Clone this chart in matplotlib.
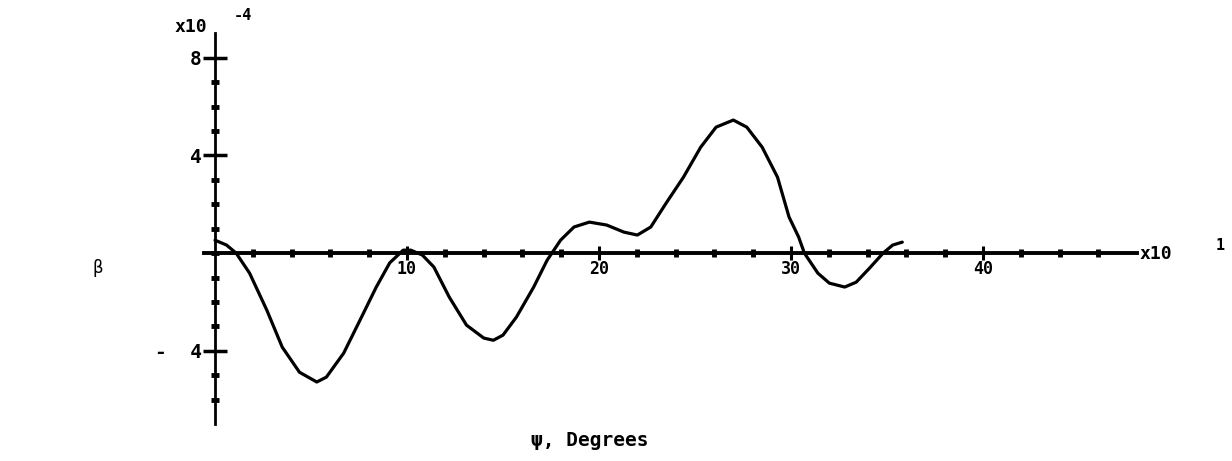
import numpy as np
import matplotlib.pyplot as plt

# beta (x1e-4) against psi (degrees / 10)
psi = [0, 0.6, 1.1, 1.8, 2.7, 3.5, 4.4, 5.3, 5.8, 6.7, 7.55, 8.4, 9.1, 9.8,
       10.2, 10.8, 11.4, 12.2, 13.1, 14.0, 14.5, 15.0, 15.7, 16.6, 17.3, 18.0,
       18.7, 19.5, 20.4, 21.3, 22.0, 22.7, 23.5, 24.4, 25.3, 26.1, 27.0, 27.7,
       28.5, 29.3, 29.9, 30.4, 30.7, 31.4, 32.0, 32.8, 33.4, 34.1, 34.8, 35.3,
       35.8]
beta = [0.53, 0.33, 0, -0.82, -2.34, -3.85, -4.88, -5.28, -5.08, -4.1, -2.75,
        -1.39, -0.4, 0.12, 0.12, -0.08, -0.57, -1.8, -2.95, -3.48, -3.57, -3.36,
        -2.62, -1.39, -0.29, 0.53, 1.07, 1.27, 1.15, 0.86, 0.74, 1.07, 2.05,
        3.11, 4.34, 5.16, 5.45, 5.16, 4.34, 3.11, 1.48, 0.66, 0, -0.82, -1.23,
        -1.39, -1.19, -0.61, 0, 0.33, 0.45]

xticks = [10, 20, 30, 40]
xticklabels = ['10', '20', '30', '40']
yticks = [-4, 4, 8]
yticklabels = ['-  4', '4', '8']

W, H = 1232, 461
fig = plt.figure(figsize=(W / 100, H / 100), dpi=100)
ax = fig.add_axes([203.5 / W, 37 / H, 933 / W, 390.6 / H])

ax.plot(psi, beta, color='black', lw=2.3, solid_capstyle='round',
        solid_joinstyle='round')

ax.set_xlim(-0.6, 48.0)
ax.set_ylim(-7, 9)

for s in ['top', 'right']:
    ax.spines[s].set_visible(False)
ax.spines['left'].set_position(('data', 0))
ax.spines['bottom'].set_position(('data', 0))
ax.spines['left'].set_linewidth(2.0)
ax.spines['bottom'].set_linewidth(2.8)

mono = dict(family='DejaVu Sans Mono', weight='bold')

ax.set_xticks(xticks)
ax.set_xticklabels(xticklabels, fontsize=12, **mono)
ax.set_xticks(np.arange(2, 47, 2), minor=True)
ax.set_yticks(yticks)
ax.set_yticklabels(yticklabels, fontsize=14, **mono)
ax.set_yticks(np.arange(-6, 8, 1), minor=True)

ax.tick_params(axis='x', which='major', direction='inout', length=10,
               width=2.2, pad=0)
ax.tick_params(axis='y', which='major', direction='inout', length=17,
               width=2.5, pad=1)
ax.tick_params(which='minor', direction='inout', length=6, width=3.5)


def fpos(px, py):
    return px / W, 1 - py / H


fig.text(*fpos(175, 27), 'x10', fontsize=13, va='center', ha='left', **mono)
fig.text(*fpos(234, 15), '-4', fontsize=11, va='center', ha='left', **mono)
fig.text(*fpos(1140, 254), 'x10', fontsize=13, va='center', ha='left', **mono)
fig.text(*fpos(1216, 245), '1', fontsize=11, va='center', ha='left', **mono)

fig.text(*fpos(98, 268), 'β', fontsize=12, va='center', ha='center')
fig.text(*fpos(590, 440), 'ψ, Degrees', fontsize=14, va='center',
         ha='center', **mono)

fig.savefig('out.png', dpi=100)
